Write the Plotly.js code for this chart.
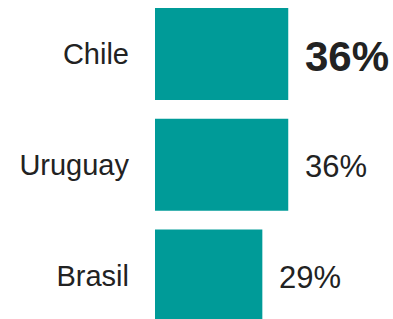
<!DOCTYPE html>
<html>
<head>
<meta charset="utf-8">
<script src="https://cdn.plot.ly/plotly-3.0.1.min.js"></script>
<style>
html,body{margin:0;padding:0;background:#fff;}
#chart{width:393px;height:319px;}
</style>
</head>
<body>
<div id="chart"></div>
<script>
var countries = ["Chile", "Uruguay", "Brasil"];
var shares = [36, 36, 29];
var labelSizes = [42, 31, 31];
var labelBold = [true, false, false];

var barColor = "#009b98";
var textColor = "#222222";
var fontFamily = "'Liberation Sans', Arial, Helvetica, sans-serif";

var trace = {
  type: "bar",
  orientation: "h",
  x: shares,
  y: countries,
  marker: {color: barColor},
  hoverinfo: "none"
};

var annotations = countries.map(function(c, i) {
  var t = shares[i] + "%";
  return {
    x: shares[i], y: c, xref: "x", yref: "y",
    text: labelBold[i] ? "<b>" + t + "</b>" : t,
    showarrow: false, xanchor: "left", yanchor: "middle",
    xshift: 15, yshift: -2,
    font: {family: fontFamily, size: labelSizes[i], color: textColor}
  };
});

var layout = {
  width: 393, height: 319,
  margin: {l: 154.5, r: 0, t: 0, b: 0, pad: 0},
  paper_bgcolor: "#ffffff", plot_bgcolor: "#ffffff",
  showlegend: false,
  bargap: 0.169,
  font: {family: fontFamily, color: textColor},
  xaxis: {range: [0, 64.3], visible: false, fixedrange: true},
  yaxis: {
    type: "category",
    range: [2.394, -0.488],
    showgrid: false, zeroline: false, showline: false,
    ticks: "", ticklabelstandoff: 25,
    tickfont: {family: fontFamily, size: 29, color: textColor},
    fixedrange: true
  },
  annotations: annotations
};

Plotly.newPlot("chart", [trace], layout, {displayModeBar: false, staticPlot: true});
</script>
</body>
</html>
